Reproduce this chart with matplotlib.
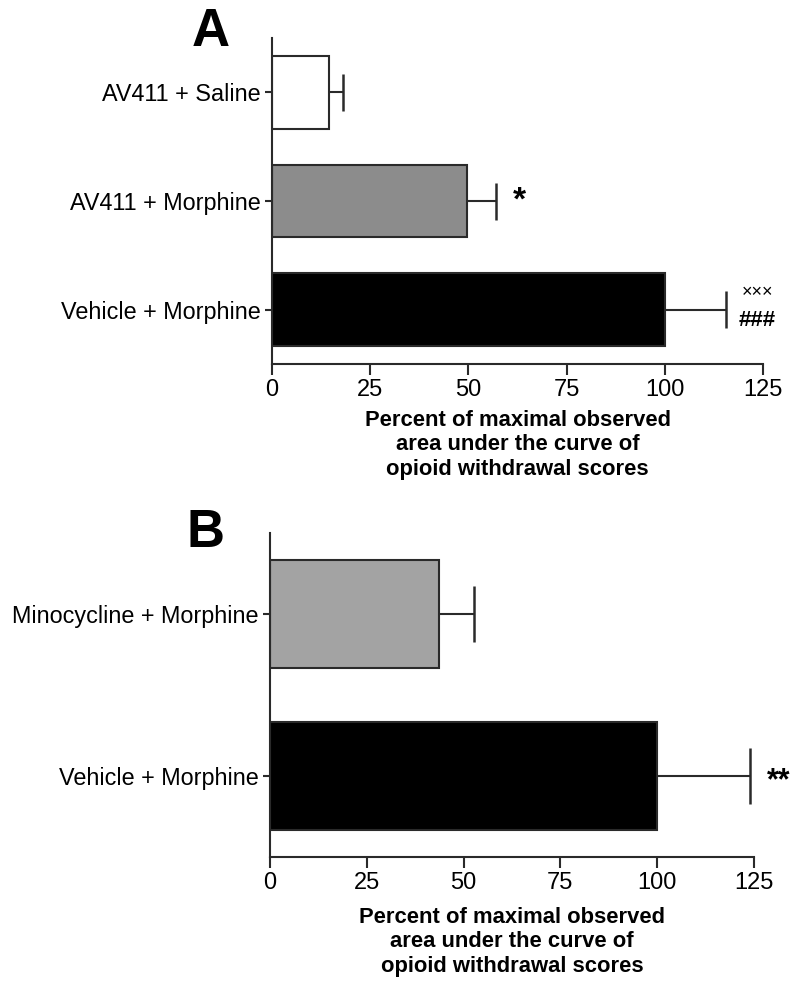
import numpy as np
import matplotlib.pyplot as plt

plt.rcParams['font.family'] = ['Liberation Sans', 'DejaVu Sans']

# Painel A
grupos_a = ["Vehicle + Morphine", "AV411 + Morphine", "AV411 + Saline"]
valores_a = [100.0, 49.5, 14.5]
erros_a = [15.5, 7.5, 3.5]
cores_a = ["#000000", "#8c8c8c", "#ffffff"]

# Painel B
grupos_b = ["Vehicle + Morphine", "Minocycline + Morphine"]
valores_b = [100.0, 43.7]
erros_b = [24.0, 8.9]
cores_b = ["#000000", "#a3a3a3"]

ticks_x = [0, 25, 50, 75, 100, 125]
rotulo_x = "Percent of maximal observed\narea under the curve of\nopioid withdrawal scores"


def desenhar_painel(ax, grupos, valores, erros, cores, meia_tampa, pad_rotulo):
    y = np.arange(len(grupos))
    ax.barh(y, valores, height=0.67, color=cores, edgecolor="#2a2a2a", linewidth=1.5)
    v = np.array(valores)
    e = np.array(erros)
    ax.hlines(y, v, v + e, color="#2a2a2a", lw=1.5)
    ax.vlines(v + e, y - meia_tampa, y + meia_tampa, color="#2a2a2a", lw=1.8)
    ax.set_yticks(y)
    ax.set_yticklabels(grupos, fontsize=16.8)
    ax.set_xticks(ticks_x)
    ax.set_xticklabels([str(t) for t in ticks_x], fontsize=17)
    ax.set_xlim(0, 125)
    ax.set_ylim(-0.5, len(grupos) - 0.5)
    for lado in ["top", "right"]:
        ax.spines[lado].set_visible(False)
    for lado in ["left", "bottom"]:
        ax.spines[lado].set_linewidth(1.5)
        ax.spines[lado].set_color("#2a2a2a")
        ax.spines[lado].set_clip_on(False)
    ax.tick_params(axis="x", length=8, width=1.5, pad=3, color="#2a2a2a")
    ax.tick_params(axis="y", length=5, width=1.5, pad=3, color="#2a2a2a")
    ax.set_xlabel(rotulo_x, fontsize=15.8, fontweight="bold", linespacing=1.22,
                  labelpad=pad_rotulo)


fig = plt.figure(figsize=(8, 9.93), dpi=100)

ax_a = fig.add_axes([0.34, 0.6334, 0.614, 0.3283])
desenhar_painel(ax_a, grupos_a, valores_a, erros_a, cores_a, 0.17, 6)
ax_a.text(-0.125, 1.02, "A", transform=ax_a.transAxes, fontsize=38, fontweight="bold",
          ha="center", va="center")
ax_a.text(valores_a[1] + erros_a[1] + 6, 1.0, "*", fontsize=24, fontweight="bold",
          ha="center", va="center")
ax_a.text(valores_a[0] + erros_a[0] + 8, 0.16, "×××", fontsize=13,
          ha="center", va="center")
ax_a.text(valores_a[0] + erros_a[0] + 8, -0.1, "###", fontsize=16, fontweight="bold",
          ha="center", va="center")

ax_b = fig.add_axes([0.3375, 0.137, 0.605, 0.3262])
desenhar_painel(ax_b, grupos_b, valores_b, erros_b, cores_b, 0.175, 9)
ax_b.text(-0.134, 1.0, "B", transform=ax_b.transAxes, fontsize=38, fontweight="bold",
          ha="center", va="center")
ax_b.text(valores_b[0] + erros_b[0] + 7.5, -0.03, "**", fontsize=22, fontweight="bold",
          ha="center", va="center")

fig.savefig("out.png", dpi=100)
